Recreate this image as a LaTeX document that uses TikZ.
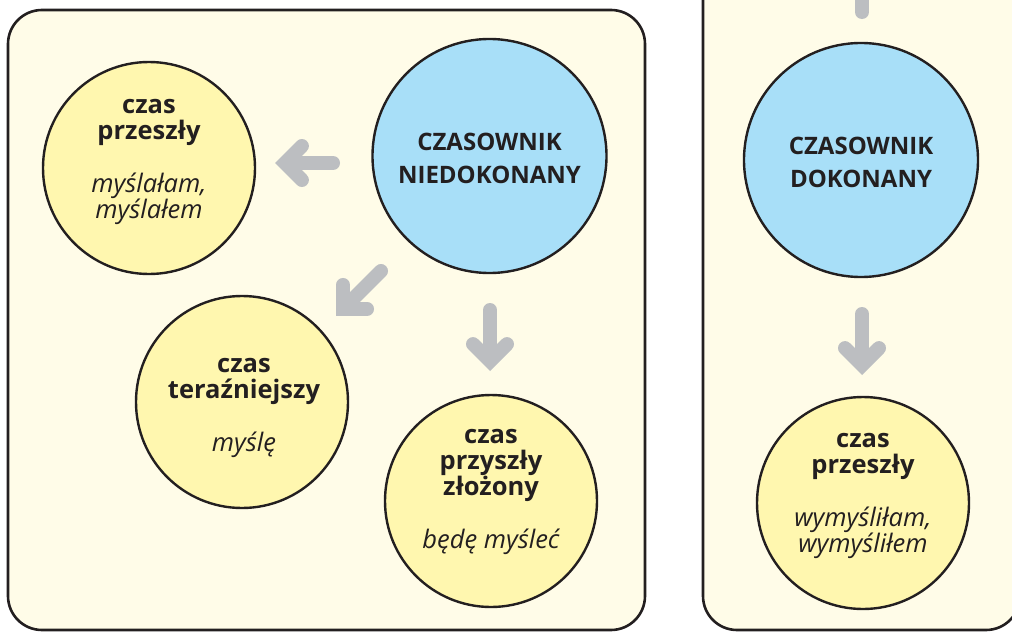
\documentclass[tikz,border=0pt]{standalone}
\usepackage{fontspec}
\setmainfont{Open Sans}
\usepackage{tikz}
\usetikzlibrary{arrows.meta}

\definecolor{panelbg}{RGB}{255,252,232}
\definecolor{tenseyellow}{RGB}{255,247,175}
\definecolor{aspectblue}{RGB}{168,223,248}
\definecolor{arrowgray}{RGB}{188,190,193}
\definecolor{outline}{RGB}{35,31,32}

\newcommand{\verbform}[1]{{\mdseries\itshape #1}}

\begin{document}
\begin{tikzpicture}[x=1pt,y=-1pt]

\tikzset{
  panel/.style={draw=outline, fill=panelbg, line width=2.6pt, rounded corners=34pt},
  tense/.style={circle, draw=outline, fill=tenseyellow, line width=2.4pt,
                minimum size=212pt, inner sep=0pt},
  aspect/.style={circle, draw=outline, fill=aspectblue, line width=2.4pt,
                minimum size=234pt, inner sep=0pt},
  tensetxt/.style={font=\fontsize{25.5}{26}\selectfont\bfseries, align=center,
                text=outline, inner sep=0pt},
  aspecttxt/.style={font=\fontsize{24}{33}\selectfont\bfseries, align=center,
                text=outline, inner sep=0pt},
  flow/.style={draw=arrowgray, line width=14pt, line cap=round,
                -{Straight Barb[length=17pt, width=34pt, line cap=round, line join=miter]}},
  tail/.style={draw=arrowgray, line width=14pt, line cap=round}
}

% Frame of the picture
\useasboundingbox (0,0) rectangle (1012,632);
\clip (0,0) rectangle (1012,632);

% Panels
\draw[panel] (8,10) rectangle (645,630);
\draw[panel] (703,-40) rectangle (1020,630);

% Imperfective verb
\node[aspect] (imperf) at (489.5,156) {};
\node[aspecttxt] (imperfTxt) at (489.5,158) {CZASOWNIK\\NIEDOKONANY};

% Tenses of the imperfective verb
\node[tense] (pastI) at (149,168) {};
\node[tensetxt] (pastITxt) at (149,162) {czas\\przeszły\\[27pt]\verbform{myślałam,}\\\verbform{myślałem}};

\node[tense] (present) at (242,402) {};
\node[tensetxt] (presentTxt) at (244,408) {czas\\teraźniejszy\\[27pt]\verbform{myślę}};

\node[tense] (future) at (491,501) {};
\node[tensetxt] (futureTxt) at (491,492) {czas\\przyszły\\złożony\\[27pt]\verbform{będę myśleć}};

% Perfective verb
\node[aspect] (perf) at (861,160) {};
\node[aspecttxt] (perfTxt) at (861,162) {CZASOWNIK\\DOKONANY};

\node[tense] (pastP) at (863,503) {};
\node[tensetxt] (pastPTxt) at (863,496) {czas\\przeszły\\[27pt]\verbform{wymyśliłam,}\\\verbform{wymyśliłem}};

% Arrows
\coordinate (a1s) at (333,163);  \coordinate (a1e) at (275,163);
\coordinate (a2s) at (381,271);  \coordinate (a2e) at (336,316);
\coordinate (a3s) at (490,310);  \coordinate (a3e) at (490,371);
\coordinate (a4s) at (862,314);  \coordinate (a4e) at (862,375);
\coordinate (t0s) at (862,-20);  \coordinate (t0e) at (862,12);

\draw[flow] (a1s) -- (a1e);
\draw[flow] (a2s) -- (a2e);
\draw[flow] (a3s) -- (a3e);
\draw[flow] (a4s) -- (a4e);
\draw[tail] (t0s) -- (t0e);

\end{tikzpicture}
\end{document}
